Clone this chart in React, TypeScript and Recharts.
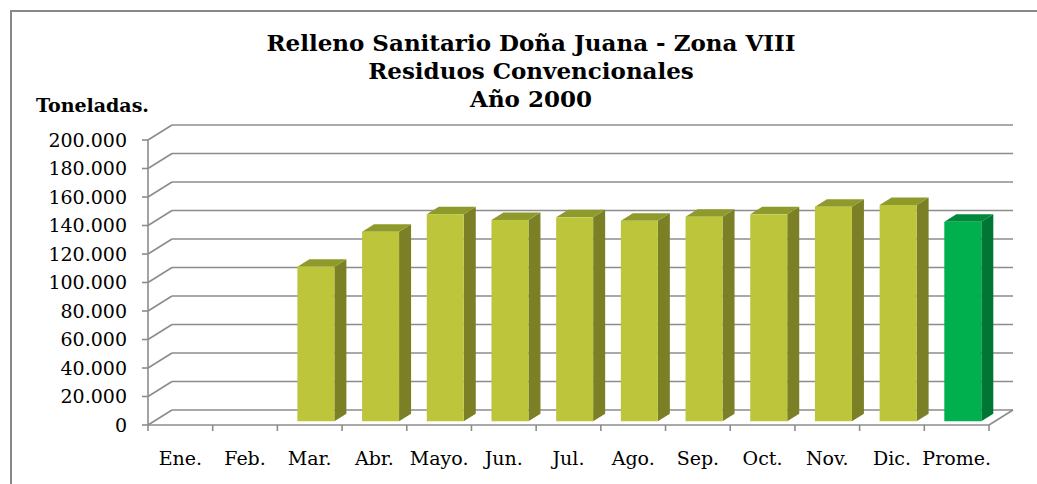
import React from 'react';
import { BarChart, Bar, XAxis, YAxis, CartesianGrid, Cell } from 'recharts';

const categories = ['Ene.', 'Feb.', 'Mar.', 'Abr.', 'Mayo.', 'Jun.', 'Jul.', 'Ago.', 'Sep.', 'Oct.', 'Nov.', 'Dic.', 'Prome.'];
const toneladas = [0, 0, 108400, 133000, 145300, 141200, 143100, 140700, 143500, 145200, 150600, 151800, 140000];
const yTicks = [0, 20000, 40000, 60000, 80000, 100000, 120000, 140000, 160000, 180000, 200000];
const titleLines = ['Relleno Sanitario Doña Juana - Zona VIII', 'Residuos Convencionales', 'Año 2000'];
const yLabel = 'Toneladas.';

const data = categories.map((c, i) => ({ name: c, value: toneladas[i] }));

const W = 1037;
const H = 484;
const PLOT_LEFT = 148;
const PLOT_RIGHT = 989;
const PLOT_TOP = 140;
const PLOT_BOTTOM = 425;
const BAND = (PLOT_RIGHT - PLOT_LEFT) / categories.length;
const DX = 24; // wall depth
const DY = 15;
const GRID = '#8c8c8c';
const FONT = '"DejaVu Serif", serif';

const LIME = { front: '#bdc63a', side: '#7b7f26', top: '#8f9a2d' };
const GREEN = { front: '#00b04f', side: '#007634', top: '#00893b' };
const palette = categories.map((_, i) => (i === categories.length - 1 ? GREEN : LIME));

const fmt = (v: number) => String(v).replace(/\B(?=(\d{3})+(?!\d))/g, '.');

const Bar3D = (props: any) => {
  const { x, y, width, height, index } = props;
  if (!height || height <= 0) return null;
  const c = palette[index] || LIME;
  const fx = x + DX / 4;
  const fy = y - DY / 4;
  const bx = DX / 2;
  const by = DY / 2;
  return (
    <g>
      <polygon
        points={`${fx + width},${fy} ${fx + width + bx},${fy - by} ${fx + width + bx},${fy + height - by} ${fx + width},${fy + height}`}
        fill={c.side}
      />
      <polygon
        points={`${fx},${fy} ${fx + bx},${fy - by} ${fx + width + bx},${fy - by} ${fx + width},${fy}`}
        fill={c.top}
      />
      <rect x={fx} y={fy} width={width} height={height} fill={c.front} />
    </g>
  );
};

const GridLine = (p: any) => {
  const { x1, y1, x2 } = p;
  const isFloor = Math.abs(y1 - PLOT_BOTTOM) < 1;
  return (
    <g key={`g-${p.index}-${y1}`}>
      <line x1={x1} y1={y1} x2={x1 + DX} y2={y1 - DY} stroke={GRID} strokeWidth={1.6} />
      <line x1={x1 + DX} y1={y1 - DY} x2={x2 + DX} y2={y1 - DY} stroke={GRID} strokeWidth={1.6} />
      {isFloor && <line x1={x2} y1={y1} x2={x2 + DX} y2={y1 - DY} stroke={GRID} strokeWidth={1.6} />}
    </g>
  );
};

const XTick = (props: any) => {
  const { x, payload, index } = props;
  const last = index === categories.length - 1;
  return (
    <g>
      <line x1={x - BAND / 2} y1={PLOT_BOTTOM} x2={x - BAND / 2} y2={PLOT_BOTTOM + 6} stroke={GRID} strokeWidth={1.6} />
      {last && <line x1={x + BAND / 2} y1={PLOT_BOTTOM} x2={x + BAND / 2} y2={PLOT_BOTTOM + 6} stroke={GRID} strokeWidth={1.6} />}
      <text x={x} y={465} textAnchor="middle" fontFamily={FONT} fontSize={19} fill="#000">
        {payload.value}
      </text>
    </g>
  );
};

export default function App() {
  return (
    <div style={{ position: 'absolute', left: 0, top: 0, width: W, height: H, background: '#fff', overflow: 'hidden' }}>
      <div
        style={{
          position: 'absolute',
          left: 10,
          top: 10,
          width: W,
          height: H,
          borderTop: '2px solid #888',
          borderLeft: '2px solid #888',
        }}
      />
      <BarChart
        width={W}
        height={H}
        data={data}
        margin={{ top: PLOT_TOP, right: W - PLOT_RIGHT, bottom: H - PLOT_BOTTOM - 30, left: PLOT_LEFT - 100 }}
        barSize={37}
      >
        <CartesianGrid horizontal={GridLine as any} vertical={false} />
        <XAxis
          dataKey="name"
          height={30}
          interval={0}
          tickLine={false}
          axisLine={{ stroke: GRID, strokeWidth: 1.6 }}
          tick={<XTick />}
        />
        <YAxis
          width={100}
          domain={[0, 200000]}
          ticks={yTicks}
          interval={0}
          tickFormatter={fmt}
          tickSize={6}
          tickMargin={15}
          axisLine={{ stroke: GRID, strokeWidth: 1.6 }}
          tickLine={{ stroke: GRID, strokeWidth: 1.6 }}
          tick={{ fontFamily: FONT, fontSize: 19, fill: '#000' }}
        />
        <Bar dataKey="value" isAnimationActive={false} shape={<Bar3D />}>
          {data.map((_, i) => (
            <Cell key={i} fill={palette[i].front} />
          ))}
        </Bar>
      </BarChart>
      {titleLines.map((t, i) => (
        <div
          key={i}
          style={{
            position: 'absolute',
            left: 0,
            width: 1062,
            top: 52 + i * 28 - 23,
            textAlign: 'center',
            fontFamily: FONT,
            fontWeight: 'bold',
            fontSize: 23,
            lineHeight: '28px',
            color: '#000',
            whiteSpace: 'nowrap',
          }}
        >
          {t}
        </div>
      ))}
      <div
        style={{
          position: 'absolute',
          left: 36,
          top: 93,
          fontFamily: FONT,
          fontWeight: 'bold',
          fontSize: 19,
          lineHeight: '24px',
          color: '#000',
          whiteSpace: 'nowrap',
        }}
      >
        {yLabel}
      </div>
    </div>
  );
}
